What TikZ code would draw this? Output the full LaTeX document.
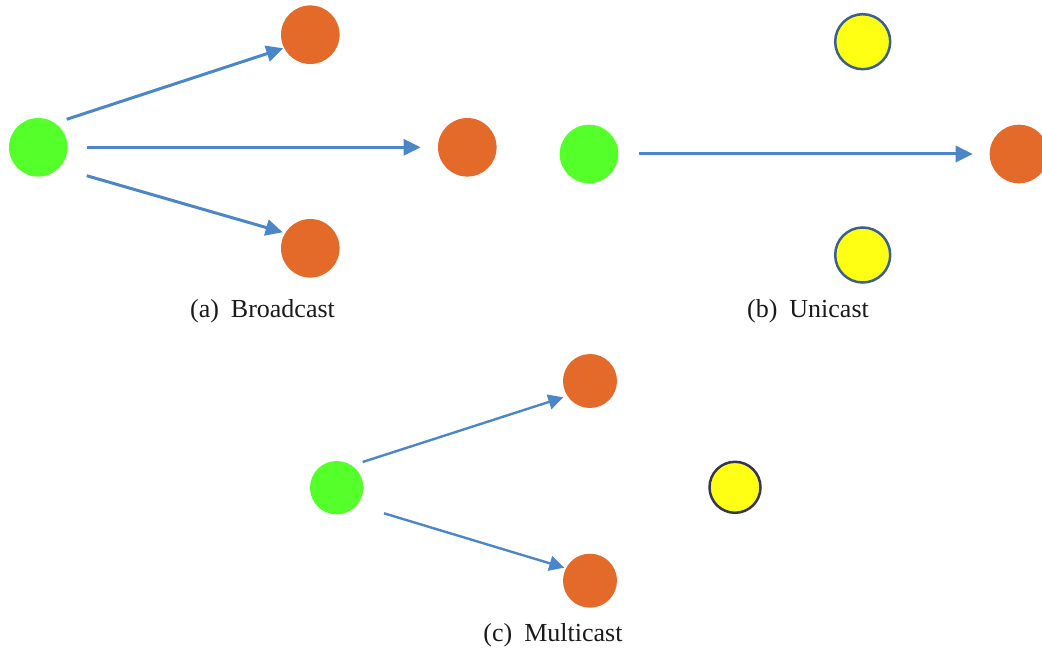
\documentclass[tikz,border=0pt]{standalone}
\usepackage{fontspec}
\setmainfont{Liberation Serif}
\usetikzlibrary{arrows.meta,calc}
\definecolor{sgreen}{HTML}{55FF2A}
\definecolor{sorange}{HTML}{E46A2A}
\definecolor{syellow}{HTML}{FFFF14}
\definecolor{sborder}{HTML}{3D5F8C}
\definecolor{sborderc}{HTML}{34345A}
\definecolor{sarrow}{HTML}{4A86C8}
\definecolor{stext}{HTML}{1A1A1A}
\tikzset{
  src/.style={circle,fill=sgreen,draw=none,minimum size=58.6pt,inner sep=0pt},
  dst/.style={circle,fill=sorange,draw=none,minimum size=58.6pt,inner sep=0pt},
  idle/.style={circle,fill=syellow,draw=sborder,line width=2.5pt,minimum size=55pt,inner sep=0pt},
  arr/.style={draw=sarrow,line width=3pt,-{Triangle[length=17pt,width=16pt]}},
  arrc/.style={draw=sarrow,line width=2.4pt,-{Triangle[length=15pt,width=15pt]}},
  captext/.style={text=stext,font=\fontsize{26}{30}\selectfont,anchor=base}
}
\begin{document}
\begin{tikzpicture}[x=1pt,y=-1pt]
\useasboundingbox (0,0) rectangle (1042,652);
% (a) Broadcast
\node[src] (ag) at (38.3,147.3) {};
\node[dst] (at) at (310.3,34.7) {};
\node[dst] (am) at (467.3,147.3) {};
\node[dst] (ab) at (310.3,248.3) {};
\draw[arr] ($(ag)+(28.4,-28)$) -- ($(at)+(-27,13.6)$);
\draw[arr] ($(ag)+(48.4,0)$) -- ($(am)+(-46.6,0)$);
\draw[arr] ($(ag)+(48.4,28.4)$) -- ($(ab)+(-27.6,-16)$);
\node[captext] (acap) at (262.5,318) {(a)\hspace{12pt}Broadcast};
% (b) Unicast
\node[src] (bg) at (589,154) {};
\node[idle] (byt) at (862.7,41.7) {};
\node[idle] (byb) at (862.7,255) {};
\begin{scope}
\clip (0,0) rectangle (1042,652);
\node[dst] (bo) at (1019,154) {};
\end{scope}
\draw[arr] ($(bg)+(50.3,0)$) -- ($(bo)+(-46.3,0)$);
\node[captext] (bcap) at (808,318) {(b)\hspace{12pt}Unicast};
% (c) Multicast
\node[src,minimum size=53.4pt] (cg) at (336.7,487.7) {};
\node[dst,minimum size=54pt] (ct) at (590,381) {};
\node[dst,minimum size=54pt] (cb) at (590,580.7) {};
\node[idle,draw=sborderc,minimum size=51pt] (cy) at (735,487.3) {};
\draw[arrc] ($(cg)+(26,-25.7)$) -- ($(ct)+(-26.7,16.3)$);
\draw[arrc] ($(cg)+(47.3,25.6)$) -- ($(cb)+(-25.7,-13)$);
\node[captext] (ccap) at (553,641.7) {(c)\hspace{12pt}Multicast};
\end{tikzpicture}
\end{document}
